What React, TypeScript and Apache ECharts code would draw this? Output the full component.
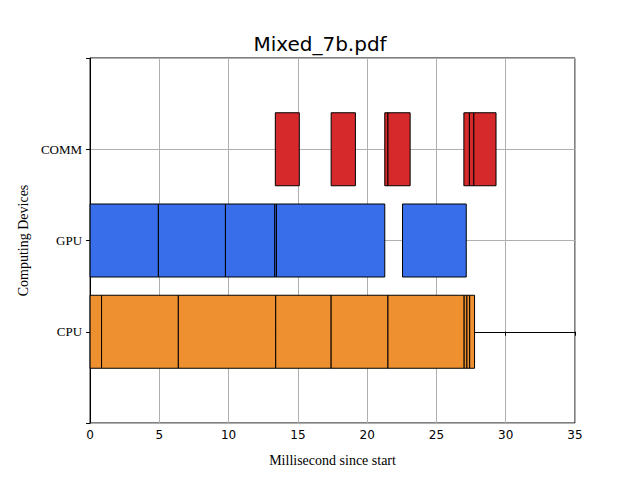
import React, { useEffect, useRef } from 'react'
import * as echarts from 'echarts'

const devices = ['CPU', 'GPU', 'COMM']
const deviceColors = ['#ef9030', '#396eeb', '#d6292b']

// [device index, start ms, end ms]
const cpuTasks = [
  [0, 0, 0.83], [0, 0.83, 6.37], [0, 6.37, 13.4], [0, 13.4, 17.4], [0, 17.4, 21.5],
  [0, 21.5, 27.0], [0, 27.0, 27.2], [0, 27.2, 27.4], [0, 27.4, 27.75]
]
const gpuTasks = [
  [1, 0, 4.93], [1, 4.93, 9.77], [1, 9.77, 13.33], [1, 13.33, 13.45], [1, 13.45, 21.27],
  [1, 22.55, 27.15]
]
const commTasks = [
  [2, 13.37, 15.1], [2, 17.4, 19.15], [2, 21.27, 21.5], [2, 21.5, 23.1],
  [2, 26.98, 27.38], [2, 27.38, 27.7], [2, 27.7, 29.3]
]
const xTicks = [0, 5, 10, 15, 20, 25, 30, 35]

const App: React.FC = () => {
  const chartRef = useRef<HTMLDivElement>(null)

  useEffect(() => {
    if (!chartRef.current) return
    const chart = echarts.init(chartRef.current, undefined, { renderer: 'svg' })
    const tasks = [...cpuTasks, ...gpuTasks, ...commTasks]
    const halfHeight = 0.4

    chart.setOption({
      animation: false,
      title: {
        text: 'Mixed_7b.pdf',
        left: 'center',
        top: 21,
        textStyle: { fontFamily: 'DejaVu Sans', fontSize: 20, fontWeight: 'normal', color: '#000' }
      },
      grid: { left: 72, right: 57, top: 50, bottom: 47, show: true, borderColor: '#000', borderWidth: 1 },
      xAxis: {
        type: 'value',
        min: xTicks[0],
        max: xTicks[xTicks.length - 1],
        interval: 5,
        name: 'Millisecond since start',
        nameLocation: 'middle',
        nameGap: 30,
        nameTextStyle: { fontFamily: 'Liberation Serif', fontSize: 14, color: '#000' },
        axisLine: { lineStyle: { color: '#000' } },
        axisTick: { lineStyle: { color: '#000' }, length: 4 },
        axisLabel: { fontFamily: 'DejaVu Sans', fontSize: 12, color: '#000', margin: 6 },
        splitLine: { lineStyle: { color: '#b0b0b0' } }
      },
      yAxis: {
        type: 'value',
        min: -1,
        max: 3,
        interval: 1,
        name: 'Computing Devices',
        nameLocation: 'middle',
        nameGap: 58,
        nameTextStyle: { fontFamily: 'Liberation Serif', fontSize: 14, color: '#000' },
        axisLine: { show: true, lineStyle: { color: '#000' } },
        axisTick: { show: true, length: 4, lineStyle: { color: '#000' } },
        axisLabel: {
          fontFamily: 'Liberation Serif',
          fontSize: 13,
          color: '#000',
          margin: 8,
          formatter: (v: number) => devices[v] ?? ''
        },
        splitLine: { lineStyle: { color: '#b0b0b0' } }
      },
      series: [
        {
          type: 'custom',
          data: tasks,
          encode: { x: [1, 2], y: 0 },
          renderItem: (params: any, api: any) => {
            const d = api.value(0)
            const p0 = api.coord([api.value(1), d + halfHeight])
            const p1 = api.coord([api.value(2), d - halfHeight])
            return {
              type: 'rect',
              shape: { x: p0[0], y: p0[1], width: p1[0] - p0[0], height: p1[1] - p0[1] },
              style: { fill: deviceColors[d], stroke: '#000', lineWidth: 1 }
            }
          }
        }
      ]
    })

    return () => chart.dispose()
  }, [])

  return <div ref={chartRef} style={{ width: 624, height: 464 }} />
}

export default App
